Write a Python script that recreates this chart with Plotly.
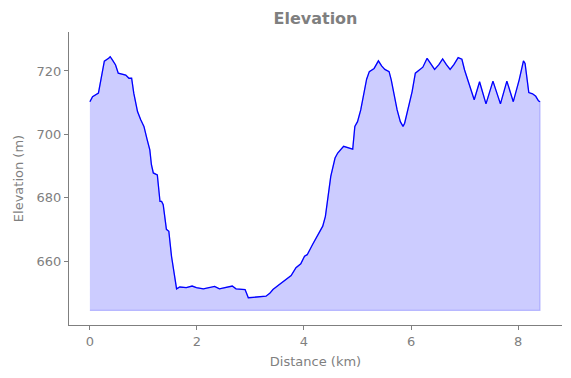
import plotly.graph_objects as go

distance_km = [
    0.00, 0.05, 0.16, 0.19, 0.24, 0.27, 0.35, 0.38, 0.42, 0.48, 0.53, 0.61, 0.67, 0.73, 0.78,
    0.82, 0.89, 0.95, 1.01, 1.07, 1.12, 1.15, 1.185, 1.26, 1.31, 1.34, 1.37, 1.43, 1.475, 1.525,
    1.59, 1.62, 1.68, 1.80, 1.91, 1.99, 2.12, 2.24, 2.33, 2.42, 2.55, 2.66, 2.73, 2.83, 2.90,
    2.96, 3.10, 3.29, 3.36, 3.42, 3.54, 3.665, 3.76, 3.85, 3.94, 4.01, 4.06, 4.16, 4.28, 4.35,
    4.40, 4.44, 4.50, 4.58, 4.63, 4.74, 4.91, 4.95, 5.00, 5.06, 5.12, 5.17, 5.22, 5.31, 5.39,
    5.45, 5.51, 5.59, 5.63, 5.68, 5.74, 5.80, 5.85, 5.88, 5.96, 6.02, 6.08, 6.15, 6.22, 6.30,
    6.38, 6.44, 6.52, 6.59, 6.66, 6.73, 6.80, 6.88, 6.95, 7.00, 7.08, 7.18, 7.28, 7.40, 7.53,
    7.67, 7.79, 7.91, 8.02, 8.10, 8.13, 8.20, 8.27, 8.33, 8.38, 8.41,
]
elevation_m = [
    710.3, 711.9, 713.0, 716.1, 719.8, 723.1, 724.0, 724.5, 723.5, 721.9, 719.3, 719.0, 718.7, 717.7, 717.7,
    713.0, 707.2, 704.6, 702.5, 698.3, 695.1, 690.4, 687.8, 687.2, 678.8, 678.8, 677.8, 670.0, 669.4, 661.5,
    654.2, 651.2, 651.8, 651.6, 652.1, 651.6, 651.2, 651.6, 652.0, 651.2, 651.6, 652.1, 651.2, 651.2, 651.0,
    648.4, 648.7, 648.9, 649.8, 651.0, 652.6, 654.2, 655.4, 657.9, 659.1, 661.5, 662.0, 665.2, 668.9, 671.0,
    674.1, 679.4, 686.7, 692.5, 694.1, 696.2, 695.3, 702.5, 704.0, 707.7, 713.0, 717.4, 719.8, 720.8, 723.2,
    721.6, 720.5, 719.8, 717.2, 712.4, 707.7, 704.0, 702.5, 703.5, 708.8, 713.5, 719.3, 720.3, 721.2, 724.0,
    721.9, 720.5, 722.0, 723.8, 722.0, 720.5, 722.0, 724.2, 723.7, 720.3, 716.1, 710.9, 716.6, 709.6, 716.8,
    709.6, 716.8, 710.3, 717.2, 723.2, 722.4, 713.2, 712.8, 712.0, 710.6, 710.3,
]
fill_base = 644.4

title_text = "Elevation"
x_title = "Distance (km)"
y_title = "Elevation (m)"
x_ticks = [0, 2, 4, 6, 8]
y_ticks = [660, 680, 700, 720]

grey = "#7f7f7f"
font_family = "DejaVu Sans"

poly_x = distance_km + distance_km[::-1]
poly_y = elevation_m + [fill_base] * len(distance_km)

fig = go.Figure()
fig.add_trace(go.Scatter(
    x=poly_x, y=poly_y, mode="lines", fill="toself",
    fillcolor="rgba(0,0,255,0.2)",
    line=dict(color="rgba(0,0,255,0.2)", width=1.2),
    hoverinfo="skip", showlegend=False,
))
fig.add_trace(go.Scatter(
    x=distance_km, y=elevation_m, mode="lines",
    line=dict(color="#0000ff", width=1.3),
    showlegend=False,
))

axis_common = dict(
    showgrid=False, zeroline=False, showline=True, linecolor=grey, linewidth=1,
    ticks="outside", ticklen=4, tickcolor=grey, tickwidth=1,
    tickfont=dict(family=font_family, size=13, color=grey),
    mirror=False,
)

fig.update_layout(
    width=563, height=370,
    margin=dict(l=59, r=9, t=24, b=53),
    paper_bgcolor="white", plot_bgcolor="white",
    title=dict(text="<b>" + title_text + "</b>", x=0.5, xref="paper", y=0.973, yref="container",
               xanchor="center", yanchor="middle",
               font=dict(family=font_family, size=16, color=grey)),
    xaxis=dict(range=[-0.39, 8.82], tickvals=x_ticks,
               title=dict(text=x_title, font=dict(family=font_family, size=13, color=grey), standoff=9),
               **axis_common),
    yaxis=dict(range=[639.8, 732.3], tickvals=y_ticks,
               title=dict(text=y_title, font=dict(family=font_family, size=13, color=grey), standoff=10),
               **axis_common),
    showlegend=False,
)

fig.write_html("out.html")
